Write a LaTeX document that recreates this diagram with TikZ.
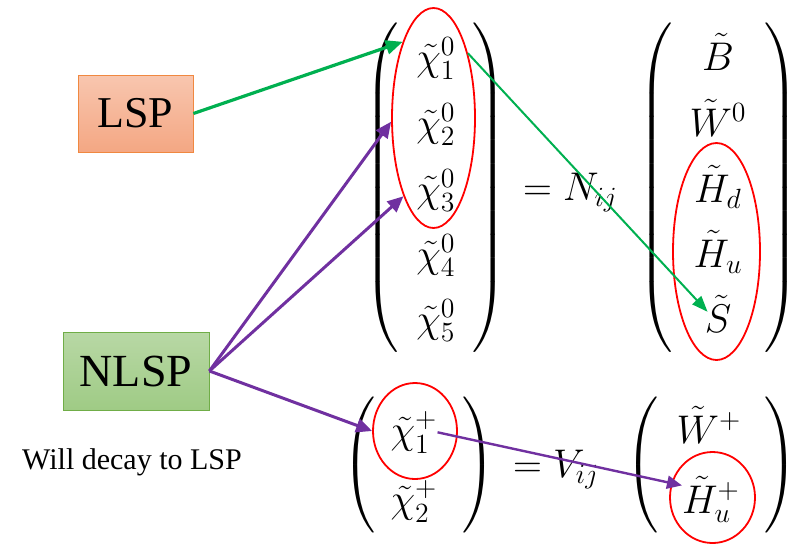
\documentclass[tikz,border=0pt]{standalone}
\usepackage{exscale}
\usepackage[no-math]{fontspec}
\newfontfamily\boxfont{Liberation Serif}
\usetikzlibrary{shapes.geometric,arrows.meta}
\DeclareMathSizes{20.74}{20.74}{14.4}{10}
\definecolor{agreen}{HTML}{00B050}
\definecolor{apurple}{HTML}{7030A0}
\definecolor{lsptop}{HTML}{F8C6AF}
\definecolor{lspbot}{HTML}{F4A783}
\definecolor{lspborder}{HTML}{F08840}
\definecolor{nlsptop}{HTML}{B8D8A5}
\definecolor{nlspbot}{HTML}{9FCB85}
\definecolor{nlspborder}{HTML}{70AD47}
\newcommand{\parheight}[1]{\vcenter{\hbox{\vrule height #1 width 0pt}}}
\newcommand{\bigmath}[1]{\scalebox{1.93}{$#1$}}
% #1 = target total height, #2 = delimiter code
\newcommand{\bigparen}[2]{\resizebox*{!}{#1}{$\delimitershortfall=0pt\delimiterfactor=1000 #2$}}
\begin{document}
\begin{tikzpicture}[x=1pt,y=-1pt,
  m/.style={inner sep=0pt, anchor=base, font=\huge},
  par/.style={inner sep=0pt, anchor=center, font=\huge},
  ring/.style={ellipse, draw=red, line width=1.8pt, inner sep=0pt},
  box/.style={rectangle, line width=0.8pt, inner sep=0pt},
  garrow/.style={draw=agreen, line width=3.2pt, -{Triangle[length=17pt,width=14pt]}},
  garrowthin/.style={draw=agreen, line width=2pt, -{Triangle[length=16pt,width=12pt]}},
  parrow/.style={draw=apurple, line width=3pt, -{Triangle[length=16pt,width=14pt]}},
  parrowthin/.style={draw=apurple, line width=2.4pt, -{Triangle[length=15pt,width=13pt]}}
]
\useasboundingbox (0,0) rectangle (789,544);
% boxes
\node[box, top color=lsptop, bottom color=lspbot, draw=lspborder,
  minimum width=115pt, minimum height=77pt, font=\boxfont\fontsize{44}{50}\selectfont] (lsp) at (135.5,113.5) {LSP};
\node[box, top color=nlsptop, bottom color=nlspbot, draw=nlspborder,
  minimum width=146pt, minimum height=78pt, font=\boxfont\fontsize{46}{52}\selectfont] (nlsp) at (136,371) {NLSP};
\node[inner sep=0pt, anchor=base west, font=\boxfont\fontsize{30}{36}\selectfont]
  (note) at (22,469) {Will decay to LSP};
% neutralino matrix
\node[m] (n1) at (436,70) {\bigmath{\tilde\chi^0_1}};
\node[m] (n2) at (436,136) {\bigmath{\tilde\chi^0_2}};
\node[m] (n3) at (436,202) {\bigmath{\tilde\chi^0_3}};
\node[m] (n4) at (436,267) {\bigmath{\tilde\chi^0_4}};
\node[m] (n5) at (436,332) {\bigmath{\tilde\chi^0_5}};
\node[m] (b) at (718,70) {\bigmath{\tilde B}};
\node[m] (w0) at (718,136) {\bigmath{\tilde W^0}};
\node[m] (hd) at (718,202) {\bigmath{\tilde H_d}};
\node[m] (hu0) at (718,267) {\bigmath{\tilde H_u}};
\node[m] (s) at (718,332) {\bigmath{\tilde S}};
\node[m, anchor=base west] (eqN) at (523,200) {\bigmath{=N_{ij}}};
\node[par] (lp1) at (383,187.5) {\bigparen{329pt}{\left(\parheight{170pt}\right.}};
\node[par] (rp1) at (488,187.5) {\bigparen{329pt}{\left.\parheight{170pt}\right)}};
\node[par] (lp2) at (657,187.5) {\bigparen{329pt}{\left(\parheight{170pt}\right.}};
\node[par] (rp2) at (780,187.5) {\bigparen{329pt}{\left.\parheight{170pt}\right)}};
% chargino matrix
\node[m] (c1) at (414,443) {\bigmath{\tilde\chi^+_1}};
\node[m] (c2) at (414,512) {\bigmath{\tilde\chi^+_2}};
\node[m] (wp) at (709,443) {\bigmath{\tilde W^+}};
\node[m] (hup) at (711,513) {\bigmath{\tilde H^+_u}};
\node[m, anchor=base west] (eqV) at (513,477) {\bigmath{=V_{ij}}};
\node[par] (lp3) at (360,465) {\bigparen{136pt}{\left(\parheight{70pt}\right.}};
\node[par] (rp3) at (478,465) {\bigparen{136pt}{\left.\parheight{70pt}\right)}};
\node[par] (lp4) at (643,465) {\bigparen{136pt}{\left(\parheight{70pt}\right.}};
\node[par] (rp4) at (780,465) {\bigparen{136pt}{\left.\parheight{70pt}\right)}};
% red rings
\node[ring, minimum width=83pt, minimum height=220pt] (e1) at (433.5,118) {};
\node[ring, minimum width=87pt, minimum height=217pt] (e2) at (716.5,251.5) {};
\node[ring, minimum width=84pt, minimum height=96pt] (e3) at (415,431) {};
\node[ring, minimum width=85pt, minimum height=91pt] (e4) at (712.5,497.5) {};
% arrows
\draw[garrow] (lsp.east) -- (e1.112);
\draw[parrow] (nlsp.east) -- (e1.185);
\draw[parrow] (nlsp.east) -- (e1.249.5);
\draw[parrow] (nlsp.east) -- (e3.west);
\draw[garrowthin] (e1.62) -- ([xshift=3pt,yshift=2pt]s.west);
\draw[parrowthin] (c1.east) -- ([yshift=-9pt]hup.north west);
\end{tikzpicture}
\end{document}
